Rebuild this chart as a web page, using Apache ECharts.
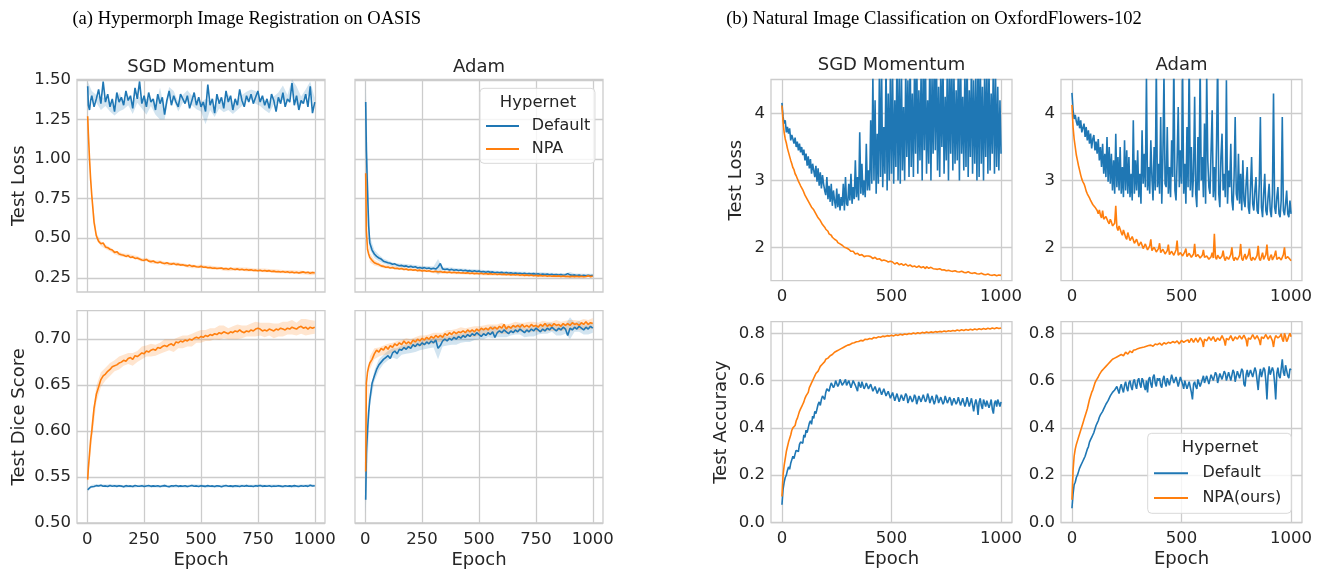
<!DOCTYPE html>
<html><head><meta charset="utf-8">
<script src="https://cdn.jsdelivr.net/npm/echarts@6/dist/echarts.min.js"></script>
<style>html,body{margin:0;padding:0;background:#fff}#c{width:1320px;height:571px}</style>
</head><body><div id="c"></div>
<script>
// ---------------- DATA ----------------
const epochsA = [2,5,10,15,20,
30,40,50,60,70,80,90,100,110,120,
130,140,150,160,170,180,190,200,210,220,
230,240,250,260,270,280,290,300,310,320,
330,340,350,360,370,380,390,400,410,420,
430,440,450,460,470,480,490,500,510,520,
530,540,550,560,570,580,590,600,610,620,
630,640,650,660,670,680,690,700,710,720,
730,740,750,760,770,780,790,800,810,820,
830,840,850,860,870,880,890,900,910,920,
930,940,950,960,970,980,990,1000];
const bandEpochsA = [2,20,40,60,80,100,120,140,160,180,200,220,240,260,280,300,320,340,360,380,400,420,440,460,480,500,520,540,560,580,600,620,640,660,680,700,720,740,760,780,800,820,840,860,880,900,920,940,960,980,1000];
const epochsB5 = [0,5,10,15,20,25,30,35,40,45,50,55,60,65,70,75,80,85,90,95,
100,105,110,115,120,125,130,135,140,145,150,155,160,165,170,175,180,185,190,195,
200,205,210,215,220,225,230,235,240,245,250,255,260,265,270,275,280,285,290,295,
300,305,310,315,320,325,330,335,340,345,350,355,360,365,370,375,380,385,390,395,
400,405,410,415,420,425,430,435,440,445,450,455,460,465,470,475,480,485,490,495,
500,505,510,515,520,525,530,535,540,545,550,555,560,565,570,575,580,585,590,595,
600,605,610,615,620,625,630,635,640,645,650,655,660,665,670,675,680,685,690,695,
700,705,710,715,720,725,730,735,740,745,750,755,760,765,770,775,780,785,790,795,
800,805,810,815,820,825,830,835,840,845,850,855,860,865,870,875,880,885,890,895,
900,905,910,915,920,925,930,935,940,945,950,955,960,965,970,975,980,985,990,995,
1000];

const xTicksA = [0,250,500,750,1000];
const xTicksB = [0,500,1000];
const yTicksLossA = [0.25,0.5,0.75,1.0,1.25,1.5];
const yTicksDiceA = [0.5,0.55,0.6,0.65,0.7];
const yTicksLossB = [2,3,4];
const yTicksAccB = [0,0.2,0.4,0.6,0.8];

// (a) SGD Momentum - Test Loss
const a1Default = [1.46,1.34,1.31,1.37,1.40,
1.33,1.38,1.44,1.35,1.49,1.36,1.41,1.33,1.38,1.30,
1.42,1.36,1.39,1.34,1.43,1.37,1.40,1.32,1.45,1.38,
1.49,1.35,1.40,1.33,1.42,1.36,1.38,1.31,1.41,1.35,
1.39,1.28,1.37,1.43,1.34,1.40,1.36,1.33,1.41,1.38,
1.35,1.40,1.32,1.37,1.42,1.34,1.39,1.33,1.36,1.30,
1.47,1.34,1.38,1.29,1.41,1.35,1.39,1.32,1.43,1.36,
1.40,1.31,1.38,1.34,1.44,1.37,1.33,1.40,1.36,1.41,
1.35,1.39,1.43,1.36,1.40,1.34,1.38,1.32,1.41,1.37,
1.30,1.39,1.35,1.42,1.33,1.38,1.36,1.48,1.34,1.40,
1.31,1.37,1.35,1.41,1.33,1.46,1.29,1.36];
const a1NPA = [1.27,1.16,1.00,0.87,0.77,
0.60,0.515,0.48,0.465,0.47,0.445,0.44,0.43,0.425,0.41,
0.415,0.40,0.395,0.392,0.385,0.39,0.378,0.382,0.372,0.375,
0.368,0.362,0.36,0.366,0.355,0.352,0.356,0.348,0.345,0.35,
0.343,0.34,0.345,0.338,0.336,0.34,0.333,0.336,0.33,0.332,
0.328,0.325,0.33,0.322,0.325,0.32,0.318,0.322,0.316,0.318,
0.313,0.315,0.31,0.312,0.308,0.31,0.312,0.306,0.308,0.303,
0.31,0.305,0.302,0.306,0.30,0.304,0.299,0.302,0.298,0.30,
0.296,0.298,0.294,0.297,0.293,0.296,0.292,0.295,0.29,0.292,
0.288,0.29,0.286,0.289,0.285,0.288,0.283,0.286,0.282,0.285,
0.28,0.284,0.287,0.281,0.285,0.279,0.283,0.28];
// (a) Adam - Test Loss
const a2Default = [1.36,1.05,0.80,0.58,0.47,
0.425,0.40,0.385,0.375,0.368,0.355,0.35,0.345,0.342,0.335,
0.338,0.33,0.326,0.328,0.322,0.325,0.318,0.322,0.316,0.32,
0.312,0.315,0.31,0.314,0.308,0.312,0.306,0.31,0.305,0.318,
0.34,0.306,0.302,0.305,0.299,0.303,0.297,0.30,0.296,0.299,
0.294,0.297,0.292,0.295,0.29,0.294,0.289,0.292,0.287,0.29,
0.285,0.289,0.284,0.287,0.282,0.285,0.281,0.284,0.279,0.283,
0.278,0.281,0.277,0.28,0.276,0.279,0.275,0.278,0.274,0.277,
0.273,0.276,0.272,0.275,0.271,0.274,0.27,0.273,0.269,0.272,
0.268,0.271,0.267,0.27,0.266,0.269,0.276,0.268,0.265,0.268,
0.264,0.267,0.263,0.266,0.262,0.265,0.263,0.266];
const a2NPA = [0.91,0.55,0.43,0.40,0.378,
0.36,0.345,0.338,0.333,0.325,0.322,0.316,0.318,0.312,0.315,
0.308,0.31,0.305,0.308,0.302,0.305,0.299,0.302,0.298,0.30,
0.295,0.298,0.293,0.296,0.291,0.294,0.29,0.288,0.291,0.286,
0.289,0.285,0.287,0.283,0.286,0.282,0.285,0.281,0.283,0.28,
0.282,0.279,0.281,0.277,0.28,0.276,0.279,0.275,0.278,0.274,
0.277,0.273,0.276,0.272,0.275,0.271,0.274,0.27,0.273,0.269,
0.272,0.268,0.271,0.267,0.27,0.266,0.269,0.265,0.268,0.264,
0.267,0.263,0.266,0.262,0.265,0.261,0.264,0.26,0.263,0.26,
0.262,0.259,0.262,0.258,0.261,0.258,0.26,0.257,0.26,0.257,
0.259,0.256,0.259,0.256,0.258,0.262,0.257,0.26];
// (a) SGD Momentum - Test Dice Score
const a3Default = [0.536,0.537,0.538,0.539,0.540,
0.5395,0.5405,0.540,0.5408,0.5398,0.5402,0.5395,0.5406,0.5399,0.5403,
0.5397,0.5404,0.5400,0.5393,0.5405,0.5399,0.5402,0.5396,0.5407,0.5400,
0.5398,0.5403,0.5395,0.5401,0.5406,0.5397,0.5402,0.5399,0.5404,0.5396,
0.5401,0.5405,0.5398,0.5394,0.5403,0.5400,0.5406,0.5397,0.5402,0.5399,
0.5404,0.5396,0.5401,0.5407,0.5398,0.5402,0.5395,0.5403,0.5400,0.5397,
0.5405,0.5399,0.5402,0.5396,0.5404,0.5400,0.5393,0.5401,0.5406,0.5398,
0.5402,0.5397,0.5404,0.5400,0.5395,0.5403,0.5399,0.5405,0.5398,0.5401,
0.5396,0.5403,0.5400,0.5406,0.5397,0.5402,0.5399,0.5404,0.5395,0.5401,
0.5398,0.5404,0.5400,0.5396,0.5403,0.5399,0.5402,0.5397,0.5405,0.5400,
0.5396,0.5403,0.5399,0.5404,0.5397,0.5408,0.5401,0.5403];
const a3NPA = [0.547,0.56,0.575,0.59,0.60,
0.625,0.64,0.648,0.656,0.66,0.662,0.665,0.667,0.67,0.671,
0.672,0.674,0.675,0.677,0.676,0.679,0.68,0.678,0.682,0.681,
0.683,0.685,0.684,0.687,0.686,0.688,0.689,0.688,0.691,0.69,
0.692,0.693,0.692,0.694,0.695,0.693,0.697,0.696,0.698,0.697,
0.699,0.698,0.70,0.699,0.701,0.702,0.701,0.703,0.702,0.704,
0.703,0.705,0.704,0.706,0.705,0.707,0.706,0.708,0.707,0.706,
0.708,0.707,0.709,0.708,0.71,0.708,0.707,0.709,0.708,0.71,
0.709,0.711,0.712,0.711,0.709,0.71,0.709,0.711,0.71,0.709,
0.711,0.71,0.712,0.711,0.71,0.712,0.711,0.713,0.712,0.711,
0.713,0.714,0.712,0.713,0.711,0.713,0.712,0.713];
// (a) Adam - Test Dice Score
const a4Default = [0.525,0.575,0.60,0.62,0.634,
0.652,0.66,0.667,0.672,0.675,0.678,0.68,0.682,0.679,0.685,
0.687,0.684,0.689,0.688,0.691,0.689,0.692,0.69,0.694,0.692,
0.695,0.693,0.696,0.694,0.697,0.695,0.698,0.696,0.699,0.69,
0.693,0.698,0.70,0.698,0.701,0.699,0.702,0.70,0.703,0.701,
0.704,0.702,0.705,0.703,0.706,0.704,0.707,0.705,0.703,0.706,
0.704,0.707,0.705,0.708,0.702,0.707,0.709,0.707,0.71,0.708,
0.706,0.709,0.707,0.71,0.708,0.711,0.709,0.707,0.71,0.708,
0.711,0.709,0.712,0.71,0.708,0.711,0.709,0.712,0.71,0.713,
0.711,0.709,0.712,0.71,0.713,0.711,0.704,0.712,0.71,0.713,
0.711,0.714,0.712,0.71,0.713,0.711,0.714,0.712];
const a4NPA = [0.556,0.652,0.664,0.67,0.674,
0.678,0.684,0.688,0.686,0.69,0.688,0.692,0.689,0.693,0.691,
0.695,0.693,0.696,0.694,0.698,0.695,0.697,0.695,0.699,0.697,
0.70,0.698,0.701,0.699,0.702,0.70,0.703,0.701,0.704,0.702,
0.704,0.702,0.706,0.704,0.707,0.705,0.708,0.706,0.708,0.707,
0.709,0.707,0.71,0.708,0.71,0.708,0.711,0.709,0.712,0.71,
0.712,0.71,0.713,0.711,0.713,0.711,0.714,0.712,0.716,0.711,
0.714,0.712,0.715,0.713,0.715,0.713,0.716,0.713,0.715,0.713,
0.716,0.714,0.715,0.713,0.716,0.714,0.717,0.714,0.716,0.714,
0.717,0.715,0.716,0.714,0.717,0.715,0.717,0.715,0.718,0.716,
0.717,0.715,0.718,0.716,0.719,0.716,0.718,0.717];

// confidence band half-widths (a), at bandEpochsA
const hwA1Default = [0.03,0.03,0.025,0.04,0.025,0.03,0.025,0.06,0.025,0.03,0.035,0.025,0.03,0.05,0.025,0.03,0.10,0.03,0.025,0.03,0.03,0.025,0.035,0.03,0.025,0.03,0.08,0.03,0.025,0.03,0.025,0.05,0.025,0.03,0.035,0.025,0.03,0.04,0.025,0.03,0.03,0.025,0.03,0.045,0.025,0.03,0.06,0.025,0.03,0.03,0.025];
const hwA1NPA = [0.03,0.02,0.018,0.015,0.014,0.013,0.012,0.012,0.011,0.012,0.011,0.012,0.011,0.010,0.012,0.011,0.010,0.011,0.012,0.010,0.011,0.010,0.011,0.012,0.010,0.011,0.010,0.012,0.011,0.010,0.011,0.012,0.010,0.011,0.010,0.012,0.011,0.010,0.011,0.012,0.010,0.011,0.012,0.010,0.011,0.013,0.011,0.012,0.010,0.013,0.012];
const hwA2Default = [0.14,0.04,0.025,0.02,0.015,0.014,0.012,0.012,0.011,0.012,0.011,0.010,0.011,0.010,0.010,0.011,0.05,0.010,0.010,0.011,0.010,0.009,0.010,0.011,0.009,0.010,0.009,0.010,0.009,0.010,0.009,0.010,0.009,0.010,0.009,0.010,0.009,0.010,0.009,0.010,0.009,0.010,0.009,0.010,0.009,0.018,0.009,0.010,0.009,0.010,0.009];
const hwA2NPA = [0.09,0.03,0.018,0.014,0.012,0.011,0.010,0.010,0.009,0.010,0.009,0.009,0.010,0.009,0.009,0.010,0.009,0.009,0.010,0.009,0.009,0.008,0.009,0.008,0.009,0.008,0.009,0.008,0.009,0.008,0.009,0.008,0.009,0.008,0.009,0.008,0.009,0.008,0.009,0.008,0.009,0.008,0.009,0.008,0.009,0.008,0.009,0.008,0.009,0.008,0.009];
const hwA3Default = [0.002,0.0015,0.0015,0.0012,0.0015,0.0013,0.0015,0.0012,0.0014,0.0015,0.0013,0.0012,0.0015,0.0014,0.0012,0.0015,0.0013,0.0014,0.0012,0.0015,0.0013,0.0014,0.0015,0.0012,0.0014,0.0013,0.0015,0.0012,0.0014,0.0013,0.0015,0.0012,0.0014,0.0015,0.0013,0.0012,0.0014,0.0015,0.0013,0.0012,0.0014,0.0015,0.0013,0.0014,0.0012,0.0015,0.0013,0.0014,0.0012,0.0015,0.0013];
const hwA3NPA = [0.004,0.012,0.009,0.008,0.007,0.007,0.006,0.007,0.006,0.006,0.007,0.006,0.007,0.006,0.007,0.006,0.006,0.007,0.006,0.007,0.006,0.007,0.006,0.007,0.006,0.007,0.006,0.007,0.006,0.008,0.007,0.006,0.007,0.008,0.007,0.006,0.007,0.008,0.007,0.008,0.007,0.008,0.007,0.008,0.007,0.008,0.007,0.008,0.009,0.008,0.007];
const hwA4Default = [0.015,0.008,0.006,0.006,0.005,0.005,0.005,0.006,0.005,0.005,0.005,0.006,0.005,0.005,0.005,0.005,0.012,0.006,0.005,0.005,0.006,0.005,0.005,0.006,0.005,0.005,0.006,0.005,0.007,0.005,0.005,0.006,0.005,0.005,0.006,0.005,0.005,0.006,0.005,0.005,0.006,0.005,0.005,0.006,0.005,0.012,0.005,0.006,0.005,0.006,0.005];
const hwA4NPA = [0.01,0.007,0.006,0.005,0.005,0.006,0.005,0.005,0.005,0.006,0.005,0.005,0.006,0.005,0.005,0.006,0.005,0.005,0.006,0.005,0.005,0.006,0.005,0.005,0.006,0.005,0.005,0.006,0.005,0.005,0.006,0.005,0.005,0.006,0.005,0.005,0.006,0.005,0.005,0.006,0.005,0.005,0.006,0.005,0.005,0.006,0.005,0.005,0.006,0.005,0.006];

// (b) SGD Momentum - Test Loss (5-epoch steps)
const b1Default = [
4.16,3.95,3.85,3.90,3.72,3.80,3.70,3.78,3.60,3.68,3.62,3.55,3.64,3.50,3.58,3.45,3.55,3.42,3.50,3.38,
3.46,3.30,3.40,3.22,3.36,3.18,3.32,3.10,3.25,3.15,3.05,3.22,2.98,3.18,2.92,3.12,2.88,3.08,2.95,2.85,
2.78,3.05,2.72,2.92,2.68,2.95,2.62,2.85,2.70,2.58,2.88,2.60,2.80,2.55,2.75,2.62,2.95,2.55,3.05,2.65,
2.62,2.95,2.70,3.10,2.65,2.90,2.72,3.30,2.75,3.05,2.70,3.72,2.80,3.25,2.78,3.00,2.75,3.55,2.85,3.15,
2.85,3.90,2.95,4.55,3.00,4.20,2.80,3.70,2.95,4.70,3.05,4.60,2.90,3.80,3.10,4.80,2.85,4.30,3.00,4.65,
3.10,4.60,2.95,4.20,3.20,4.90,3.00,4.55,2.95,4.80,3.15,4.10,3.00,4.75,3.35,4.50,3.05,4.95,3.20,4.30,
3.05,4.70,3.40,5.00,3.10,4.35,3.30,4.60,3.00,4.90,3.45,4.80,3.10,4.20,3.25,4.95,3.00,4.55,3.40,4.85,
3.45,4.90,3.15,4.40,3.05,4.70,3.50,4.75,3.10,4.25,3.30,4.85,3.00,4.60,3.40,4.90,3.15,4.60,3.25,4.35,
3.30,4.80,3.00,4.95,3.40,4.25,3.15,4.70,3.20,4.90,3.05,4.35,3.35,4.80,3.10,4.50,3.25,4.55,3.00,4.85,
3.05,4.90,3.25,4.40,3.00,4.60,3.35,4.75,3.10,4.70,3.15,4.30,3.40,4.85,3.10,4.55,3.20,4.40,3.15,4.20,
3.40];
const b1NPA = [
4.12,3.88,3.72,3.62,3.56,3.48,3.42,3.36,3.30,3.25,3.19,3.16,3.10,3.07,3.03,2.99,2.97,2.92,2.90,2.86,
2.84,2.78,2.77,2.72,2.70,2.66,2.66,2.60,2.58,2.56,2.53,2.50,2.48,2.44,2.43,2.40,2.38,2.34,2.32,2.30,
2.27,2.26,2.24,2.20,2.19,2.18,2.15,2.14,2.12,2.11,2.10,2.07,2.07,2.05,2.04,2.03,2.02,2.00,1.99,1.99,
1.97,1.97,1.96,1.94,1.93,1.94,1.92,1.90,1.90,1.91,1.91,1.88,1.88,1.89,1.87,1.86,1.885,1.87,1.86,1.87,
1.85,1.86,1.84,1.83,1.83,1.85,1.845,1.82,1.81,1.83,1.82,1.80,1.80,1.81,1.79,1.80,1.785,1.78,1.775,1.79,
1.77,1.78,1.765,1.75,1.76,1.77,1.755,1.74,1.75,1.755,1.745,1.73,1.735,1.75,1.74,1.72,1.725,1.735,1.72,1.71,
1.73,1.72,1.71,1.70,1.705,1.72,1.71,1.695,1.70,1.71,1.69,1.68,1.71,1.72,1.685,1.68,1.70,1.69,1.68,1.675,
1.675,1.69,1.67,1.66,1.68,1.67,1.66,1.65,1.665,1.675,1.65,1.64,1.655,1.665,1.645,1.64,1.64,1.655,1.65,1.635,
1.635,1.645,1.63,1.62,1.64,1.65,1.625,1.615,1.62,1.635,1.635,1.62,1.615,1.63,1.61,1.60,1.62,1.63,1.605,1.60,
1.60,1.615,1.61,1.595,1.595,1.61,1.59,1.58,1.60,1.61,1.585,1.575,1.58,1.595,1.59,1.575,1.575,1.59,1.585,1.57,
1.58];
// (b) Adam - Test Loss (5-epoch steps)
const b2Default = [
4.31,4.05,3.92,3.98,3.88,3.82,3.95,3.78,3.90,3.72,3.70,3.85,3.65,3.80,3.60,3.75,3.55,3.70,3.48,3.62,
3.68,3.45,3.58,3.40,3.62,3.30,3.50,3.20,3.55,3.10,3.40,3.05,3.65,2.98,3.50,2.95,3.40,2.85,3.30,2.80,
3.70,2.90,3.35,2.85,3.50,2.80,3.20,2.75,3.60,2.85,3.45,2.80,3.35,2.75,3.10,2.70,3.90,2.80,3.30,2.85,
3.45,2.75,3.10,2.65,3.75,2.95,3.40,2.90,4.55,2.85,3.20,2.80,3.60,3.05,2.70,3.50,2.85,4.70,2.90,3.25,
2.80,3.95,2.65,3.35,4.60,2.95,2.90,3.80,2.80,3.20,2.75,3.60,3.05,4.80,2.85,2.70,3.30,4.10,2.90,3.45,
2.95,4.65,2.80,3.25,2.65,3.80,2.90,4.90,2.85,3.50,2.75,3.10,4.25,2.80,2.60,3.65,2.85,4.75,3.00,3.35,
2.75,3.85,2.65,4.60,3.30,2.90,2.80,3.45,4.05,2.75,3.20,2.70,3.55,4.85,2.80,2.60,3.35,3.70,2.85,3.10,
2.75,4.50,2.65,3.15,2.90,3.55,2.70,2.55,3.05,3.95,2.80,2.70,3.40,2.65,3.10,2.55,3.30,2.70,2.60,2.95,
3.20,2.60,2.50,2.90,3.35,2.65,2.55,2.85,3.05,2.55,2.50,2.95,3.95,2.60,2.45,2.80,3.10,2.55,2.48,2.75,
2.95,2.55,2.45,2.80,4.30,2.60,2.50,2.75,2.90,2.50,2.45,2.70,3.95,2.55,2.48,2.65,2.85,2.50,2.45,2.70,
2.50];
const b2NPA = [
4.13,3.80,3.62,3.50,3.38,3.30,3.22,3.15,3.08,3.02,2.98,2.95,2.90,2.84,2.80,2.78,2.74,2.70,2.68,2.64,
2.62,2.60,2.58,2.55,2.50,2.56,2.48,2.44,2.55,2.42,2.40,2.46,2.45,2.38,2.35,2.42,2.38,2.32,2.30,2.36,
2.62,2.30,2.25,2.32,2.30,2.22,2.18,2.26,2.25,2.15,2.12,2.22,2.20,2.10,2.08,2.16,2.15,2.06,2.04,2.12,
2.10,2.02,2.00,2.08,2.08,1.98,1.97,2.05,2.05,1.96,1.95,2.02,2.12,1.95,1.93,2.00,2.00,1.93,1.92,1.98,
2.06,1.92,1.90,1.97,1.98,1.90,1.89,1.95,2.04,1.89,1.88,1.94,1.95,1.88,1.87,1.96,2.10,1.88,1.86,1.92,
1.94,1.87,1.85,1.93,1.98,1.86,1.84,1.91,1.92,1.85,1.83,1.90,2.05,1.86,1.84,1.89,1.90,1.84,1.82,1.88,
1.96,1.85,1.83,1.87,1.88,1.82,1.80,1.86,1.92,1.84,2.20,1.85,1.82,1.88,1.90,1.83,1.81,1.87,1.95,1.84,
1.80,1.86,1.88,1.82,1.82,1.89,2.00,1.84,1.80,1.85,1.86,1.81,1.81,1.88,2.05,1.83,1.80,1.86,1.90,1.82,
1.82,1.89,1.98,1.83,1.80,1.85,1.87,1.81,1.81,1.88,2.02,1.83,1.80,1.86,1.92,1.82,1.82,1.89,2.04,1.83,
1.80,1.86,1.89,1.81,1.81,1.88,1.95,1.82,1.80,1.85,1.86,1.81,1.82,1.89,2.00,1.83,1.81,1.86,1.85,1.82,
1.80];
// (b) SGD Momentum - Test Accuracy (5-epoch steps)
const b3Default = [
0.075,0.14,0.17,0.19,0.20,0.22,0.235,0.225,0.25,0.265,0.28,0.27,0.29,0.305,0.31,0.30,0.33,0.34,0.345,0.335,
0.37,0.36,0.39,0.38,0.40,0.42,0.43,0.415,0.45,0.44,0.47,0.46,0.48,0.50,0.51,0.495,0.52,0.535,0.535,0.52,
0.55,0.565,0.57,0.555,0.575,0.59,0.59,0.57,0.58,0.60,0.595,0.575,0.585,0.605,0.60,0.58,0.575,0.595,0.605,0.58,
0.585,0.60,0.595,0.57,0.575,0.60,0.60,0.58,0.58,0.555,0.595,0.58,0.57,0.595,0.59,0.565,0.575,0.59,0.585,0.565,
0.565,0.585,0.58,0.555,0.555,0.575,0.57,0.545,0.55,0.57,0.565,0.54,0.545,0.565,0.56,0.535,0.535,0.555,0.55,0.525,
0.53,0.55,0.545,0.515,0.52,0.545,0.54,0.51,0.515,0.54,0.545,0.515,0.52,0.545,0.535,0.505,0.51,0.535,0.54,0.51,
0.52,0.54,0.53,0.50,0.505,0.535,0.535,0.51,0.515,0.54,0.54,0.51,0.52,0.545,0.53,0.505,0.51,0.535,0.535,0.50,
0.515,0.54,0.53,0.505,0.505,0.53,0.525,0.50,0.51,0.535,0.535,0.505,0.515,0.53,0.52,0.495,0.50,0.525,0.53,0.50,
0.51,0.53,0.525,0.495,0.50,0.525,0.52,0.49,0.505,0.53,0.53,0.49,0.495,0.525,0.52,0.47,0.50,0.52,0.50,0.455,
0.51,0.525,0.495,0.48,0.52,0.505,0.49,0.515,0.515,0.485,0.50,0.52,0.48,0.46,0.505,0.515,0.49,0.52,0.52,0.49,
0.51];
const b3NPA = [
0.11,0.20,0.24,0.27,0.30,0.32,0.34,0.355,0.37,0.39,0.40,0.405,0.41,0.43,0.44,0.455,0.47,0.48,0.49,0.50,
0.51,0.525,0.535,0.54,0.55,0.57,0.58,0.59,0.60,0.61,0.62,0.63,0.635,0.64,0.65,0.66,0.665,0.67,0.675,0.68,
0.69,0.69,0.695,0.70,0.705,0.71,0.71,0.712,0.72,0.722,0.725,0.722,0.73,0.735,0.735,0.738,0.74,0.745,0.745,0.748,
0.75,0.748,0.752,0.758,0.758,0.755,0.76,0.765,0.764,0.76,0.765,0.77,0.77,0.765,0.768,0.775,0.775,0.77,0.774,0.778,
0.778,0.774,0.776,0.782,0.782,0.778,0.78,0.786,0.785,0.78,0.783,0.788,0.788,0.782,0.786,0.792,0.79,0.785,0.788,0.794,
0.792,0.786,0.789,0.795,0.794,0.788,0.791,0.797,0.796,0.79,0.793,0.798,0.797,0.792,0.795,0.80,0.799,0.794,0.797,0.802,
0.801,0.795,0.798,0.803,0.802,0.797,0.799,0.805,0.804,0.798,0.801,0.806,0.805,0.80,0.802,0.808,0.806,0.80,0.803,0.809,
0.807,0.802,0.805,0.81,0.808,0.803,0.806,0.811,0.81,0.805,0.807,0.812,0.811,0.806,0.809,0.814,0.812,0.807,0.81,0.815,
0.814,0.808,0.811,0.816,0.815,0.809,0.812,0.817,0.816,0.81,0.813,0.819,0.817,0.811,0.814,0.82,0.818,0.812,0.815,0.821,
0.819,0.813,0.816,0.822,0.82,0.814,0.817,0.823,0.821,0.815,0.818,0.824,0.822,0.816,0.819,0.825,0.823,0.817,0.82,0.824,
0.822];
// (b) Adam - Test Accuracy (5-epoch steps)
const b4Default = [
0.06,0.12,0.16,0.17,0.19,0.20,0.215,0.23,0.24,0.235,0.26,0.27,0.28,0.295,0.31,0.32,0.34,0.35,0.36,0.37,
0.38,0.395,0.41,0.42,0.43,0.445,0.455,0.46,0.47,0.48,0.49,0.50,0.505,0.515,0.52,0.535,0.535,0.55,0.545,0.56,
0.555,0.575,0.56,0.545,0.57,0.585,0.565,0.55,0.58,0.595,0.57,0.555,0.59,0.60,0.575,0.56,0.595,0.605,0.58,0.565,
0.60,0.61,0.585,0.57,0.61,0.60,0.575,0.56,0.60,0.55,0.605,0.615,0.585,0.57,0.615,0.625,0.59,0.575,0.61,0.60,
0.61,0.58,0.57,0.605,0.62,0.59,0.575,0.61,0.61,0.58,0.585,0.625,0.625,0.59,0.595,0.615,0.61,0.575,0.58,0.615,
0.615,0.585,0.565,0.60,0.60,0.565,0.56,0.595,0.59,0.55,0.52,0.585,0.595,0.575,0.565,0.605,0.61,0.575,0.57,0.605,
0.62,0.59,0.585,0.62,0.615,0.585,0.59,0.625,0.63,0.60,0.60,0.635,0.625,0.59,0.595,0.63,0.635,0.605,0.60,0.64,
0.63,0.60,0.595,0.635,0.64,0.60,0.605,0.645,0.635,0.595,0.60,0.64,0.645,0.61,0.61,0.65,0.64,0.585,0.575,0.625,
0.645,0.615,0.61,0.645,0.65,0.615,0.62,0.655,0.64,0.60,0.56,0.62,0.65,0.615,0.615,0.655,0.645,0.60,0.52,0.62,
0.66,0.625,0.62,0.655,0.64,0.59,0.52,0.63,0.655,0.62,0.61,0.65,0.69,0.635,0.62,0.665,0.66,0.62,0.61,0.65,
0.645];
const b4NPA = [
0.096,0.22,0.28,0.31,0.33,0.345,0.36,0.375,0.39,0.405,0.42,0.435,0.45,0.465,0.48,0.50,0.52,0.535,0.55,0.56,
0.575,0.59,0.60,0.605,0.615,0.625,0.63,0.64,0.645,0.65,0.655,0.66,0.665,0.67,0.67,0.68,0.68,0.69,0.69,0.695,
0.695,0.70,0.70,0.705,0.705,0.71,0.71,0.705,0.712,0.72,0.718,0.712,0.72,0.725,0.725,0.718,0.728,0.735,0.73,0.725,
0.735,0.74,0.738,0.73,0.74,0.748,0.742,0.735,0.745,0.75,0.748,0.74,0.75,0.755,0.745,0.738,0.755,0.76,0.752,0.745,
0.758,0.762,0.75,0.745,0.76,0.765,0.755,0.748,0.762,0.768,0.758,0.75,0.765,0.77,0.76,0.752,0.768,0.772,0.755,0.748,
0.77,0.775,0.762,0.755,0.768,0.775,0.772,0.76,0.765,0.778,0.775,0.762,0.768,0.78,0.774,0.762,0.77,0.782,0.776,0.765,
0.742,0.775,0.778,0.768,0.772,0.785,0.78,0.77,0.774,0.786,0.778,0.765,0.765,0.78,0.782,0.77,0.775,0.79,0.78,0.77,
0.748,0.778,0.784,0.772,0.776,0.79,0.782,0.768,0.77,0.785,0.786,0.775,0.778,0.79,0.79,0.775,0.775,0.792,0.784,0.772,
0.745,0.78,0.788,0.775,0.778,0.795,0.792,0.775,0.776,0.79,0.785,0.77,0.75,0.785,0.79,0.778,0.78,0.795,0.795,0.775,
0.77,0.79,0.785,0.768,0.742,0.775,0.79,0.795,0.78,0.772,0.788,0.798,0.775,0.765,0.80,0.785,0.765,0.775,0.79,0.80,
0.785];

// ---------------- STYLE / LAYOUT ----------------
const FONT = "'DejaVu Sans', sans-serif";
const SERIF = "'Liberation Serif', 'Times New Roman', serif";
const TXT = '#262626';
const GRIDC = '#cccccc';
const BLUE = '#1f77b4', ORANGE = '#ff7f0e';

const xA = {min:-45, max:1045, ticks:xTicksA, fmt:v=>String(v)};
const xB = {min:-50, max:1050, ticks:xTicksB, fmt:v=>String(v)};
const yLossA = {min:0.16, max:1.5025, ticks:yTicksLossA, fmt:v=>v.toFixed(2)};
const yDiceA = {min:0.4998, max:0.731, ticks:yTicksDiceA, fmt:v=>v.toFixed(2)};
const yLossB = {min:1.5, max:4.51, ticks:yTicksLossB, fmt:v=>String(v)};
const yAccB = {min:-0.001, max:0.849, ticks:yTicksAccB, fmt:v=>v.toFixed(1)};

const panels = [
  {rect:[77,79.5,248,212.5], x:xA, y:yLossA, xl:false, yl:true, yName:'Test Loss', yGap:49, xName:false,
   title:'SGD Momentum',
   lines:[[epochsA,a1Default,BLUE,'Default',hwA1Default],[epochsA,a1NPA,ORANGE,'NPA',hwA1NPA]]},
  {rect:[355,79.5,248,212.5], x:xA, y:yLossA, xl:false, yl:false, yName:null, xName:false,
   title:'Adam',
   lines:[[epochsA,a2Default,BLUE,'Default',hwA2Default],[epochsA,a2NPA,ORANGE,'NPA',hwA2NPA]]},
  {rect:[77,310.7,248,212.3], x:xA, y:yDiceA, xl:true, yl:true, yName:'Test Dice Score', yGap:49, xName:true,
   lines:[[epochsA,a3Default,BLUE,'Default',hwA3Default],[epochsA,a3NPA,ORANGE,'NPA',hwA3NPA]]},
  {rect:[355,310.7,248,212.3], x:xA, y:yDiceA, xl:true, yl:false, yName:null, xName:true,
   lines:[[epochsA,a4Default,BLUE,'Default',hwA4Default],[epochsA,a4NPA,ORANGE,'NPA',hwA4NPA]]},
  {rect:[771,79.5,241,201.2], x:xB, y:yLossB, xl:true, yl:true, yName:'Test Loss', yGap:26, xName:false,
   title:'SGD Momentum',
   lines:[[epochsB5,b1Default,BLUE,'Default',null],[epochsB5,b1NPA,ORANGE,'NPA(ours)',null]]},
  {rect:[1061,79.5,241,201.2], x:xB, y:yLossB, xl:true, yl:true, yName:null, xName:false,
   title:'Adam',
   lines:[[epochsB5,b2Default,BLUE,'Default',null],[epochsB5,b2NPA,ORANGE,'NPA(ours)',null]]},
  {rect:[771,321.7,241,201], x:xB, y:yAccB, xl:true, yl:true, yName:'Test Accuracy', yGap:41, xName:true,
   lines:[[epochsB5,b3Default,BLUE,'Default',null],[epochsB5,b3NPA,ORANGE,'NPA(ours)',null]]},
  {rect:[1061,321.7,241,201], x:xB, y:yAccB, xl:true, yl:true, yName:null, xName:true,
   lines:[[epochsB5,b4Default,BLUE,'Default',null],[epochsB5,b4NPA,ORANGE,'NPA(ours)',null]]},
];

const grids = [], xAxes = [], yAxes = [], series = [], titles = [];
const warnings = [];

panels.forEach((p, i) => {
  grids.push({left:p.rect[0], top:p.rect[1], width:p.rect[2], height:p.rect[3],
    show:true, borderColor:GRIDC, borderWidth:1.3, backgroundColor:'#ffffff',
    containLabel:false, outerBoundsMode:'none'});
  xAxes.push({
    gridIndex:i, type:'value', min:p.x.min, max:p.x.max,
    axisLine:{show:false}, axisTick:{show:false, customValues:p.x.ticks},
    axisLabel:{show:p.xl, customValues:p.x.ticks, formatter:p.x.fmt, margin:8,
      fontSize:16.5, color:TXT, fontFamily:FONT},
    splitLine:{show:true, lineStyle:{color:GRIDC, width:1.3}},
    name:p.xName ? 'Epoch' : '', nameLocation:'middle', nameGap:28,
    nameTextStyle:{fontSize:18, color:TXT, fontFamily:FONT}
  });
  yAxes.push({
    gridIndex:i, type:'value', min:p.y.min, max:p.y.max,
    axisLine:{show:false}, axisTick:{show:false, customValues:p.y.ticks},
    axisLabel:{show:p.yl, customValues:p.y.ticks, formatter:p.y.fmt, margin:6,
      fontSize:16.5, color:TXT, fontFamily:FONT},
    splitLine:{show:true, lineStyle:{color:GRIDC, width:1.3}},
    name:p.yName || '', nameLocation:'middle', nameGap:p.yGap || 40,
    nameTextStyle:{fontSize:18, color:TXT, fontFamily:FONT}
  });
  p.lines.forEach(([ep, vals, color, name, hw]) => {
    if (ep.length !== vals.length) warnings.push('len mismatch panel '+i+' '+name+' '+vals.length);
    if (hw) {
      if (hw.length !== bandEpochsA.length) warnings.push('hw mismatch panel '+i+' '+name+' '+hw.length);
      const yr = p.y;
      series.push({
        type:'custom', coordinateSystem:'cartesian2d', xAxisIndex:i, yAxisIndex:i,
        silent:true, z:1, data:[[ep[0], vals[0]]],
        renderItem:function(params, api){
          const up = [], lo = [];
          const clamp = t => Math.max(yr.min, Math.min(yr.max, t));
          for (let k = 0; k < bandEpochsA.length; k++) {
            const e = bandEpochsA[k];
            const j = ep.indexOf(e);
            const v = vals[j];
            up.push(api.coord([e, clamp(v + hw[k])]));
            lo.push(api.coord([e, clamp(v - hw[k])]));
          }
          lo.reverse();
          return {type:'polygon', shape:{points:up.concat(lo)},
                  style:{fill:color, opacity:0.2}};
        }
      });
    }
  });
  p.lines.forEach(([ep, vals, color, name], k) => {
    series.push({
      type:'line', name:name, xAxisIndex:i, yAxisIndex:i,
      data:ep.map((e, j) => [e, vals[j]]),
      showSymbol:false, symbol:'none', clip:true, silent:true, z:2 + k,
      color:color, itemStyle:{color:color},
      lineStyle:{color:color, width:1.6}
    });
  });
  if (p.title) {
    const cx = p.rect[0] + p.rect[2] / 2;
    titles.push({text:p.title, left:cx, top:i < 4 ? 57 : 55.5, textAlign:'center', padding:0,
      textStyle:{fontSize:18, fontWeight:'normal', color:TXT, fontFamily:FONT, lineHeight:20}});
  }
});

// Main (serif) titles
titles.push({text:'(a) Hypermorph Image Registration on OASIS', left:246.7, top:8.5, textAlign:'center', padding:0,
  textStyle:{fontSize:18.6, fontWeight:'normal', color:'#000', fontFamily:SERIF, lineHeight:22}});
titles.push({text:'(b) Natural Image Classification on OxfordFlowers-102', left:934, top:8.5, textAlign:'center', padding:0,
  textStyle:{fontSize:18.6, fontWeight:'normal', color:'#000', fontFamily:SERIF, lineHeight:22}});
// Legend titles
titles.push({text:'Hypernet', left:538, top:92.5, textAlign:'center', padding:0, z:10,
  textStyle:{fontSize:16.5, fontWeight:'normal', color:TXT, fontFamily:FONT, lineHeight:20}});
titles.push({text:'Hypernet', left:1220, top:437.5, textAlign:'center', padding:0, z:10,
  textStyle:{fontSize:16.5, fontWeight:'normal', color:TXT, fontFamily:FONT, lineHeight:20}});

const legendBase = {
  orient:'vertical', icon:'rect', itemHeight:2, selectedMode:false,
  backgroundColor:'rgba(255,255,255,0.8)', borderColor:'#d9d9d9', borderWidth:1, borderRadius:4,
  z:8
};
const legends = [
  Object.assign({}, legendBase, {data:['Default','NPA'], left:480, top:88.3,
    padding:[27.7,4.8,4.3,6], itemGap:3, itemWidth:33,
    textStyle:{fontSize:16, lineHeight:20, color:TXT, fontFamily:FONT, padding:[0,0,0,7.7]}}),
  Object.assign({}, legendBase, {data:['Default','NPA(ours)'], left:1147.7, top:433.3,
    padding:[30,10,5.3,6.3], itemGap:4.7, itemWidth:34,
    textStyle:{fontSize:16, lineHeight:20, color:TXT, fontFamily:FONT, padding:[0,0,0,9.4]}})
];

const graphic = warnings.length ? [{type:'text', left:10, top:540, style:{text:warnings.join(' | '), fill:'red', fontSize:12}}] : [];

const chart = echarts.init(document.getElementById('c'), null, {renderer:'canvas'});
chart.setOption({
  animation:false,
  backgroundColor:'#ffffff',
  title:titles,
  legend:legends,
  grid:grids,
  xAxis:xAxes,
  yAxis:yAxes,
  series:series,
  graphic:graphic
});
</script></body></html>
